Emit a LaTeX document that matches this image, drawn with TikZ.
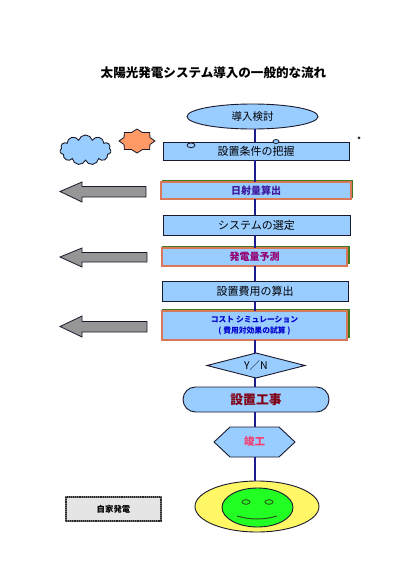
\documentclass[tikz,border=0pt]{standalone}
\usepackage{fontspec}
\setmainfont{Noto Sans CJK JP}
\usetikzlibrary{shapes.geometric,shapes.symbols,shapes.misc,positioning}
\definecolor{sky}{HTML}{99CCFF}
\definecolor{ink}{HTML}{1A1A2E}
\definecolor{spinecol}{HTML}{1C1C8C}
\definecolor{rim}{HTML}{D9775A}
\definecolor{shade}{HTML}{3F7A1F}
\definecolor{arrowgray}{HTML}{969696}
\tikzset{
  x=1pt,y=-1pt,
  shape base/.style={draw=ink,fill=sky,line width=0.9pt,inner sep=0pt,outer sep=0pt,font=\fontsize{11}{12}\selectfont},
  plainbox/.style={shape base,rectangle},
  keybox/.style={plainbox,draw=rim,line width=1.1pt,font=\fontsize{10}{11}\selectfont\bfseries},
  back/.style={fill=shade,draw=none},
  conn/.style={draw=spinecol,line width=1.6pt},
  bigarrow/.style={draw=ink,fill=arrowgray,line width=0.8pt,line join=miter},
  thin/.style={draw=ink,line width=0.8pt},
}
\begin{document}
\begin{tikzpicture}
\useasboundingbox[fill=white] (0,0) rectangle (415,587);
\coordinate (spine) at (255,0);

\node[font=\fontsize{12.55}{14}\selectfont\bfseries] (title) at (213.5,72.5) {太陽光発電システム導入の一般的な流れ};

% green offsets behind the highlighted boxes
\fill[back] (162,179.5) rectangle (352.5,198);
\fill[back] (162,245.5) rectangle (349.5,264);
\fill[back] (162,308.5) rectangle (350,338);

\node[shape base,ellipse,minimum width=131pt,minimum height=25pt,font=\fontsize{10.5}{12}\selectfont] (start) at (252.5,116.5) {導入検討};
\node[plainbox,minimum width=186pt,minimum height=18pt] (cond) at (256,151) {設置条件の把握};
\node[keybox,text={rgb,255:red,64;green,26;blue,160},minimum width=190pt,minimum height=17pt] (sun) at (256,190.5) {日射量算出};
\node[plainbox,minimum width=187pt,minimum height=20pt] (sys) at (256.5,225) {システムの選定};
\node[keybox,text={rgb,255:red,150;green,0;blue,110},minimum width=185pt,minimum height=18pt] (gen) at (254.5,257) {発電量予測};
\node[plainbox,minimum width=186pt,minimum height=20pt] (cost) at (255,291) {設置費用の算出};
\node[keybox,text={rgb,255:red,0;green,0;blue,205},minimum width=185pt,minimum height=29pt,align=center,font=\fontsize{7.8}{11}\selectfont\bfseries] (simu) at (254.5,325.5) {コスト シミュレーション\\[0pt]( 費用対効果の試算 )};
\node[shape base,diamond,aspect=3.9,minimum width=98pt,minimum height=25pt,font=\fontsize{10.5}{12}\selectfont] (yn) at (256,365.5) {Y／N};
\node[shape base,rounded rectangle,minimum width=146pt,minimum height=25pt,font=\fontsize{12.8}{14}\selectfont\bfseries,text={rgb,255:red,128;green,0;blue,20}] (work) at (256,399.5) {設置工事};
\coordinate (done) at (254.5,442);
\draw[shape base] (214,442) -- (230,427) -- (279,427) -- (295,442) -- (279,457) -- (230,457) -- cycle;
\node[font=\fontsize{10.5}{12}\selectfont\bfseries,text={rgb,255:red,245;green,60;blue,110}] (donelabel) at (done) {竣工};

\node[draw=ink,fill=yellow!60,ellipse,line width=0.9pt,minimum width=124pt,minimum height=51pt,inner sep=0pt] (sunface) at (257,506.5) {};
\node[draw=ink,fill={rgb,255:red,34;green,255;blue,34},ellipse,line width=0.9pt,minimum width=71pt,minimum height=39pt,inner sep=0pt] (face) at (257.5,507.5) {};
\draw[draw=shade!70!black,line width=0.9pt] (246,502) ellipse (4 and 2.3);
\draw[draw=shade!70!black,line width=0.9pt] (269,502) ellipse (4 and 2.3);
\draw[draw=shade!70!black,line width=1pt] (237,516) .. controls (250,520) and (264,520) .. (277,516);

\draw[draw=black!55,fill=black!10,line width=1.3pt] (66,497) rectangle (161,521);
\node[draw=black!85,densely dotted,line width=1.1pt,minimum width=95pt,minimum height=24pt,inner sep=0pt,font=\fontsize{8.4}{10}\selectfont\bfseries] (home) at (113.5,509) {自家発電};

% connectors
\draw[conn] (start.south -| spine) -- (cond.north -| spine);
\draw[conn] (cond.south -| spine) -- (sun.north -| spine);
\draw[conn] (sun.south -| spine) -- (sys.north -| spine);
\draw[conn] (sys.south -| spine) -- (gen.north -| spine);
\draw[conn] (gen.south -| spine) -- (cost.north -| spine);
\draw[conn] (cost.south -| spine) -- (simu.north -| spine);
\draw[conn] (simu.south -| spine) -- (yn.north -| spine);
\draw[conn] (yn.south -| spine) -- (work.north -| spine);
\draw[conn] (work.south -| spine) -- (255,427);
\draw[conn] (255,457) -- (sunface.north -| spine);

% grey arrows
\draw[bigarrow] (60,191.5) -- (82,182) -- (82,186.5) -- (146,186.5) -- (146,197) -- (82,197) -- (82,202) -- cycle;
\draw[bigarrow] (60,257) -- (82,248) -- (82,252.5) -- (147,252.5) -- (147,262) -- (82,262) -- (82,267) -- cycle;
\draw[bigarrow] (60,326.5) -- (82,316) -- (82,321.5) -- (147,321.5) -- (147,332) -- (82,332) -- (82,337) -- cycle;

% cloud
\node[cloud,cloud puffs=11,cloud puff arc=150,aspect=1.7,draw=ink,fill=sky,line width=0.9pt,minimum width=51pt,minimum height=30pt,inner sep=0pt] (cloudy) at (85.5,150) {};
% eight-point star
\draw[thin,fill={rgb,255:red,255;green,153;blue,102},line join=miter]
  plot[samples at={0,22.5,...,337.5}] ({137+(mod(\x,45)==0?18:14)*cos(\x)},{141+(mod(\x,45)==0?12:9.3)*sin(\x)}) -- cycle;
% small marks
\draw[thin,fill=sky] (191,145.3) ellipse (4 and 2.4);
\draw[thin,fill=sky] (276,141.5) ellipse (3 and 2);
\fill[black!85] (359,137.8) circle (1.5);
\end{tikzpicture}
\end{document}
